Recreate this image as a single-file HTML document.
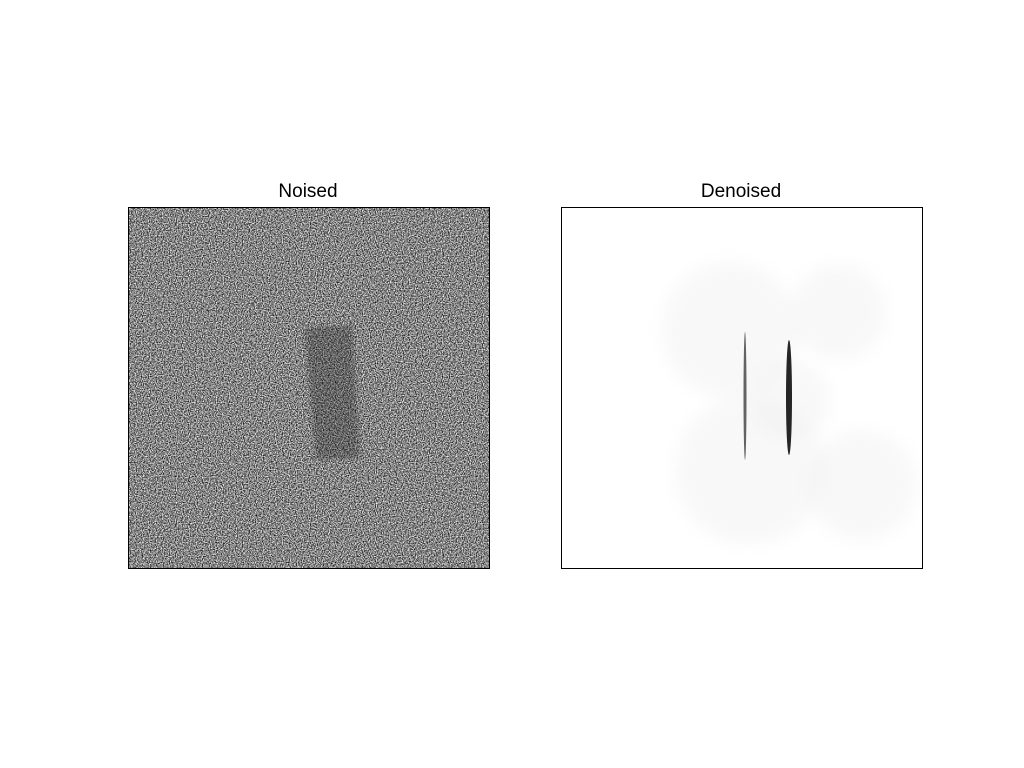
<!DOCTYPE html>
<html><head><meta charset="utf-8"><style>
html,body{margin:0;padding:0;background:#fff;width:1024px;height:768px;overflow:hidden}
text{font-family:"Liberation Sans","DejaVu Sans",sans-serif}
</style></head><body>
<svg width="1024" height="768" viewBox="0 0 1024 768">
<defs>
<filter id="noise" x="0" y="0" width="100%" height="100%" color-interpolation-filters="sRGB">
<feTurbulence type="fractalNoise" baseFrequency="0.85" numOctaves="2" seed="3" result="t"/>
<feColorMatrix type="matrix" values="1.8 0 0 0 -0.38  1.8 0 0 0 -0.38  1.8 0 0 0 -0.38  0 0 0 0 1"/>
</filter>
<clipPath id="clipL"><rect x="128" y="207" width="361" height="361"/></clipPath>
<clipPath id="clipR"><rect x="561" y="207" width="361" height="361"/></clipPath>
<filter id="blur2"><feGaussianBlur stdDeviation="2"/></filter>
<filter id="blur6"><feGaussianBlur stdDeviation="8"/></filter>
</defs>
<rect width="1024" height="768" fill="#fff"/>
<text x="308" y="197" font-size="19" text-anchor="middle">Noised</text>
<text x="741" y="197" font-size="19" text-anchor="middle">Denoised</text>
<g clip-path="url(#clipL)">
<rect x="128" y="207" width="361" height="361" fill="#888" filter="url(#noise)"/>
<polygon id="barL" fill="#222" opacity="0.3" filter="url(#blur2)"/>
</g>
<rect x="128.5" y="207.5" width="361" height="361" fill="none" stroke="#000" stroke-width="1"/>
<g clip-path="url(#clipR)" id="denoised"></g>
<rect x="561.5" y="207.5" width="361" height="361" fill="none" stroke="#000" stroke-width="1"/>
</svg>
<script>
const barCorners=[[305,328],[352,326],[360,458],[316,460]];
const blobX=[730,838,862,750,790];
const blobY=[330,312,485,470,400];
const blobR=[68,48,55,75,40];
const strokeX=[789,745];
const strokeTop=[340,332];
const strokeBottom=[455,460];
const strokeW=[6,3];
const strokeShade=[0.85,0.6];
const NS="http://www.w3.org/2000/svg";
const bar=document.getElementById('barL');
bar.setAttribute('points',barCorners.map(p=>p.join(',')).join(' '));
const g=document.getElementById('denoised');
for(let i=0;i<blobX.length;i++){
  const c=document.createElementNS(NS,'circle');
  
  
  c.setAttribute('cx',blobX[i]);c.setAttribute('cy',blobY[i]);c.setAttribute('r',blobR[i]);
  c.setAttribute('fill','#ececec');c.setAttribute('opacity','0.35');c.setAttribute('filter','url(#blur6)');
  g.appendChild(c);
}
for(let i=0;i<strokeX.length;i++){
  const e=document.createElementNS(NS,'ellipse');
  
  
  e.setAttribute('cx',strokeX[i]);e.setAttribute('cy',(strokeTop[i]+strokeBottom[i])/2);
  e.setAttribute('rx',strokeW[i]/2);e.setAttribute('ry',(strokeBottom[i]-strokeTop[i])/2);
  e.setAttribute('fill','#000');e.setAttribute('opacity',strokeShade[i]);
  g.appendChild(e);
}
</script>
</body></html>
